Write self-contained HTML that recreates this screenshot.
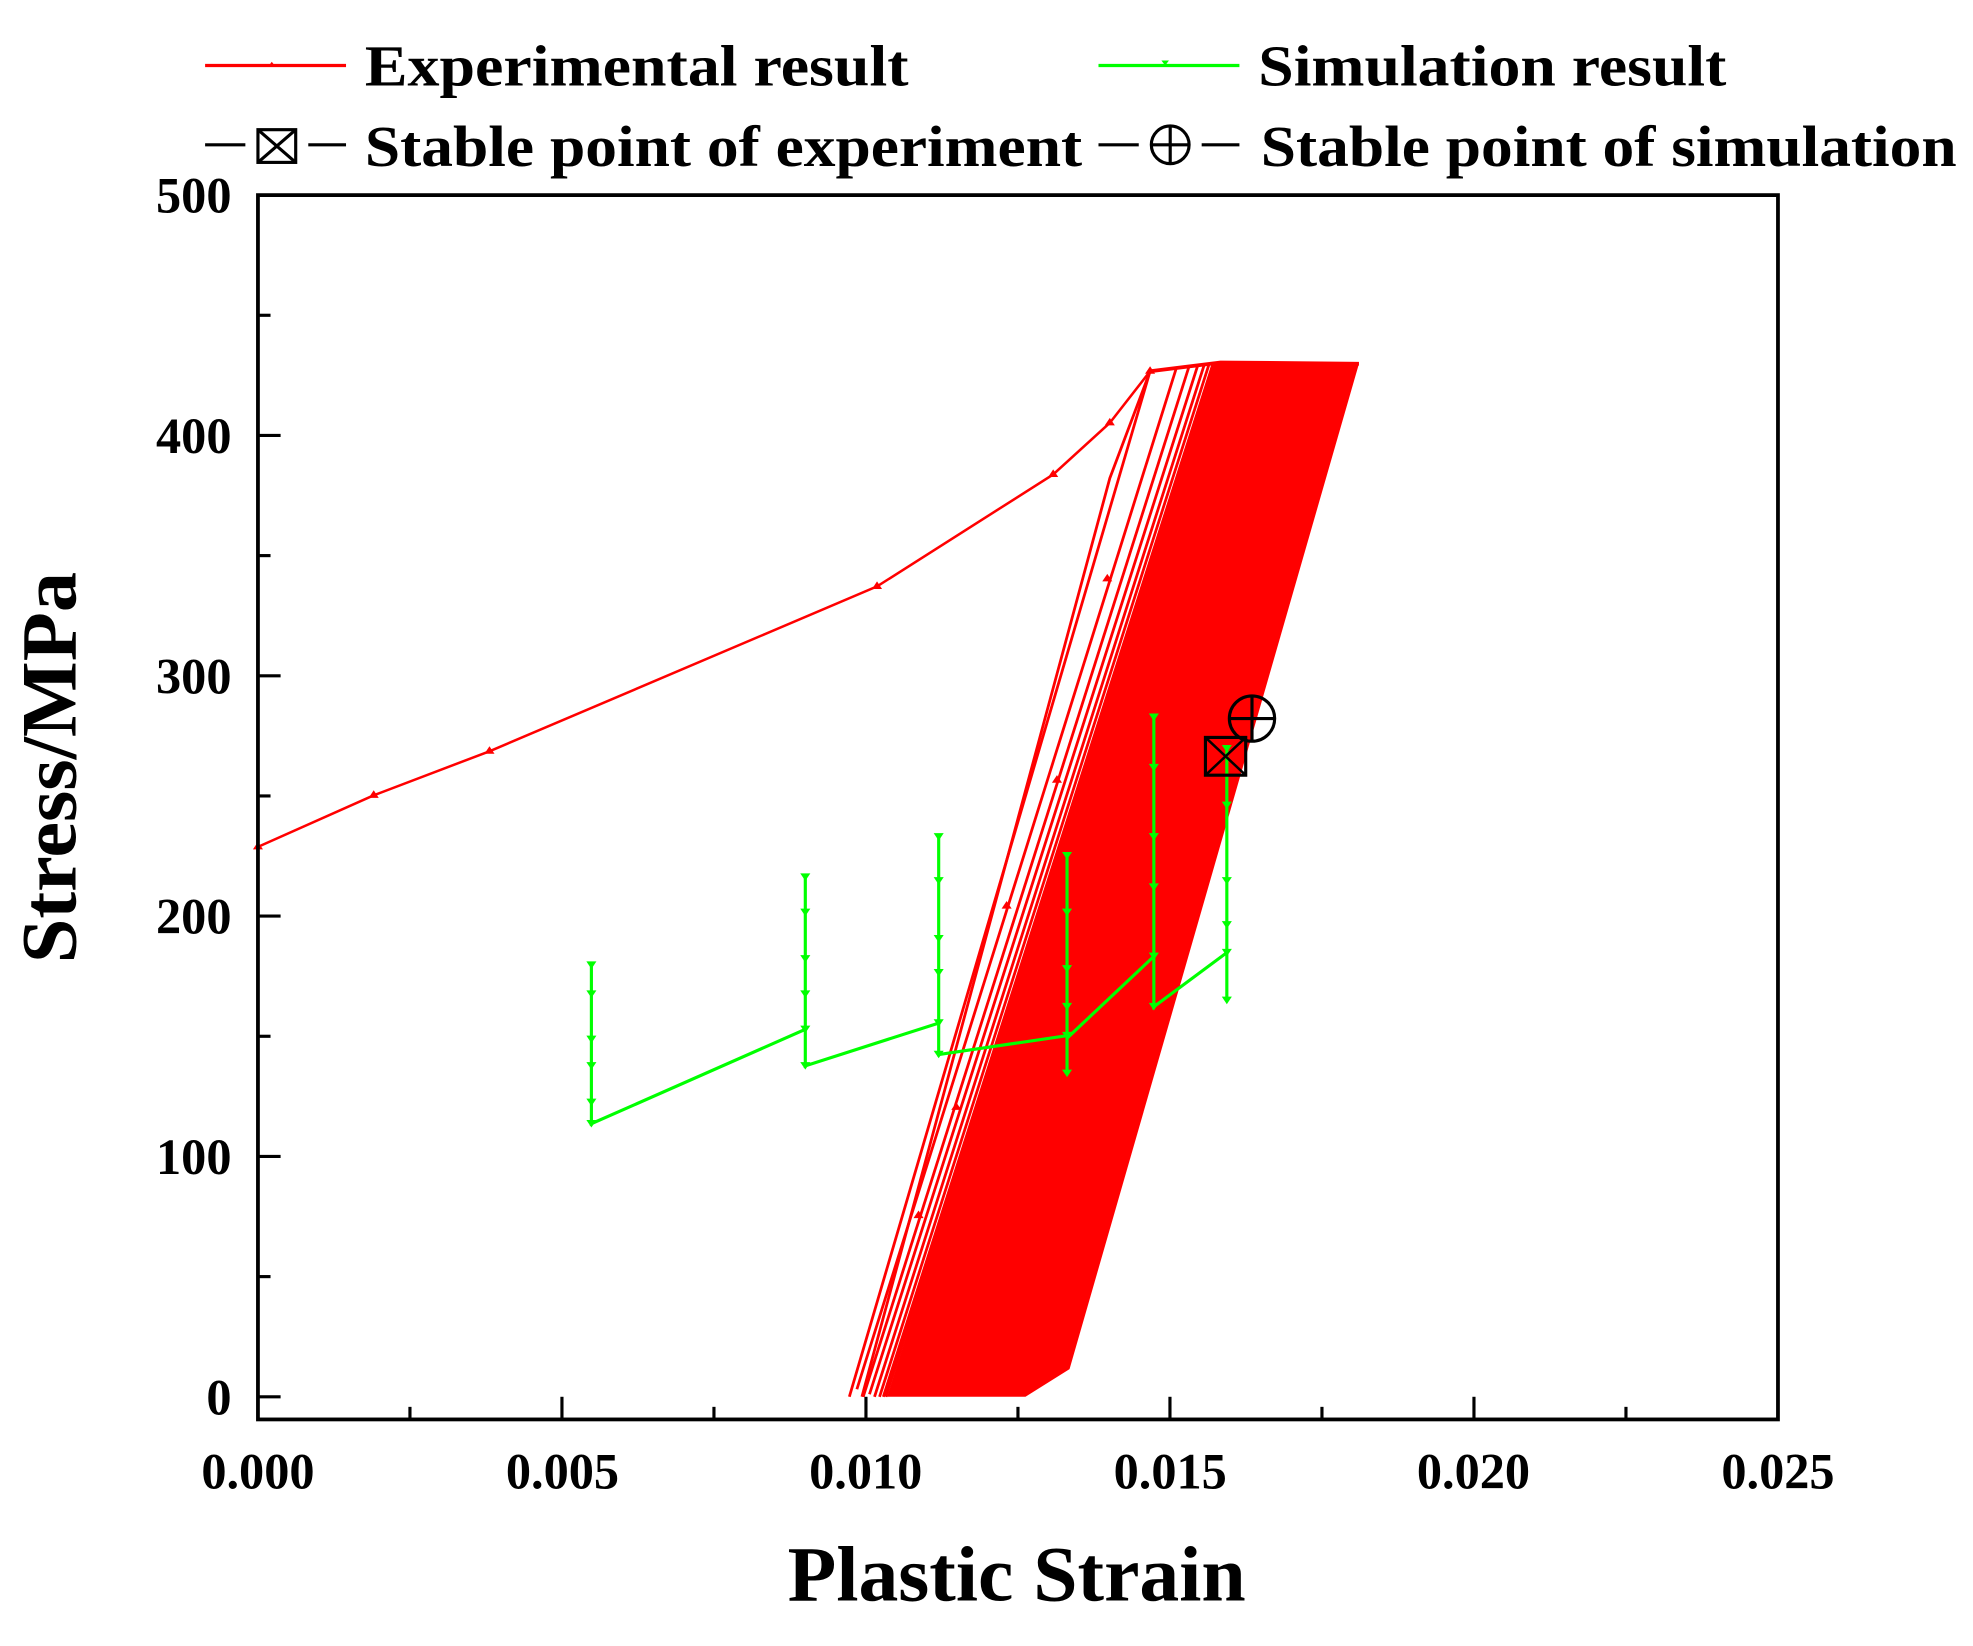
<!DOCTYPE html>
<html><head><meta charset="utf-8"><style>html,body{margin:0;padding:0;background:#fff}svg{display:block}</style></head>
<body>
<svg id="s" width="1973" height="1646" viewBox="0 0 1568 1308" xmlns="http://www.w3.org/2000/svg" font-family="'Liberation Serif', serif" font-weight="bold">
<rect width="1568" height="1308" fill="#fff"/>
<line x1="163" y1="52" x2="275" y2="52" stroke="#f00" stroke-width="2.5"/>
<path d="M216,49 l3,4 h-6z" fill="#f00"/>
<text x="290" y="68" font-size="46" textLength="432" lengthAdjust="spacingAndGlyphs">Experimental result</text>
<line x1="873" y1="52" x2="985" y2="52" stroke="#0f0" stroke-width="2.5"/>
<path d="M926,52 l3,-4 h-6z" fill="#0f0"/>
<text x="1000" y="68" font-size="46" textLength="372" lengthAdjust="spacingAndGlyphs">Simulation result</text>
<g stroke="#000" stroke-width="2.5" fill="none">
<line x1="163" y1="115" x2="195" y2="115"/><line x1="245" y1="115" x2="275" y2="115"/>
<rect x="205" y="103" width="30" height="26"/><path d="M205,103 L235,129 M235,103 L205,129"/>
<line x1="873" y1="115" x2="905" y2="115"/><line x1="955" y1="115" x2="985" y2="115"/>
<circle cx="930" cy="115" r="15"/><path d="M915,115 H945 M930,100 V130"/>
</g>
<text x="290" y="132" font-size="46" textLength="570" lengthAdjust="spacingAndGlyphs">Stable point of experiment</text>
<text x="1002" y="132" font-size="46" textLength="553" lengthAdjust="spacingAndGlyphs">Stable point of simulation</text>
<g id="plot"></g>
<rect x="205" y="155" width="1208" height="973" fill="none" stroke="#000" stroke-width="3"/>
<g id="ticks" stroke="#000" stroke-width="2.5"></g>
<g font-size="40" text-anchor="end">
<text x="184" y="1124">0</text><text x="184" y="933">100</text><text x="184" y="742">200</text><text x="184" y="551">300</text><text x="184" y="360">400</text><text x="184" y="169">500</text>
</g>
<g font-size="40" text-anchor="middle">
<text x="205" y="1183">0.000</text><text x="447" y="1183">0.005</text><text x="688" y="1183">0.010</text><text x="930" y="1183">0.015</text><text x="1171" y="1183">0.020</text><text x="1413" y="1183">0.025</text>
</g>
<text x="808" y="1272" font-size="62" text-anchor="middle" textLength="364" lengthAdjust="spacingAndGlyphs">Plastic Strain</text>
<text transform="translate(60,610) rotate(-90)" font-size="62" text-anchor="middle" textLength="311" lengthAdjust="spacingAndGlyphs">Stress/MPa</text>
</svg>
<script>
var NS="http://www.w3.org/2000/svg";
function el(p,n,a){var e=document.createElementNS(NS,n);for(var k in a)e.setAttribute(k,a[k]);p.appendChild(e);return e;}
var plot=document.getElementById('plot'),ticks=document.getElementById('ticks');
for(var i=0;i<=10;i++){var x=205+i*120.8;if(i==0||i==10)continue;el(ticks,'line',{x1:x,y1:1128,x2:x,y2:(i%2==0?1110:1118)});}
for(var i=0;i<=10;i++){var y=1110-i*95.5;el(ticks,'line',{x1:205,y1:y,x2:(i%2==0?223:215),y2:y});}
el(plot,'polygon',{points:"705,1110 815,1110 850,1088 1080,289 965,288",fill:"#f00"});
var tops=[[914,295],[935,292],[945,291],[952,290],[957,290],[961,289],[964,289],[966,288]];
var bots=[[675,1110],[681,1104],[686,1110],[691,1108],[695,1110],[699,1110],[702,1110],[704,1110]];
for(var i=0;i<tops.length;i++){el(plot,'line',{x1:bots[i][0],y1:bots[i][1],x2:tops[i][0],y2:tops[i][1],stroke:"#f00","stroke-width":2.2});}
el(plot,'path',{d:"M685,1110 L882,380 L914,295",stroke:"#f00","stroke-width":2.2,fill:"none"});
el(plot,'polyline',{points:"914,295 938,292 970,288 1080,289",stroke:"#f00","stroke-width":3,fill:"none"});
var ic=[[205,673],[297,632],[389,597],[697,466],[837,377],[882,336],[914,295]];
el(plot,'polyline',{points:ic.map(function(p){return p.join(',')}).join(' '),stroke:"#f00","stroke-width":2,fill:"none"});
ic.forEach(function(p){el(plot,'path',{d:"M"+p[0]+","+(p[1]-4)+" l4,6 h-8z",fill:"#f00"});});
[[730,966],[760,880],[800,720],[840,620],[880,460]].forEach(function(p){el(plot,'path',{d:"M"+p[0]+","+(p[1]-4)+" l4,6 h-8z",fill:"#f00"});});
var g="M470,767 V893 L640,818 V697 V847 L746,813 V665 V838 L848,823 V680 V853 V825 L917,760 V570 V800 L975,757 V595 V795";
el(plot,'path',{d:g,stroke:"#0f0","stroke-width":2.5,fill:"none"});
var gm=[[470,767],[470,790],[470,826],[470,847],[470,876],[470,893],[640,697],[640,725],[640,762],[640,790],[640,818],[640,847],[746,665],[746,700],[746,746],[746,773],[746,813],[746,838],[848,680],[848,725],[848,770],[848,800],[848,823],[848,853],[917,570],[917,610],[917,665],[917,705],[917,760],[917,800],[975,595],[975,640],[975,700],[975,735],[975,757],[975,795]];
gm.forEach(function(p){el(plot,'path',{d:"M"+(p[0]-4)+","+(p[1]-3)+" h8 l-4,6z",fill:"#0f0"});});
el(plot,'rect',{x:958,y:586,width:32,height:30,fill:"none",stroke:"#000","stroke-width":2.5});
el(plot,'path',{d:"M958,586 L990,616 M990,586 L958,616",stroke:"#000","stroke-width":2});
el(plot,'circle',{cx:995,cy:571,r:18,fill:"none",stroke:"#000","stroke-width":2.5});
el(plot,'path',{d:"M977,571 H1013 M995,553 V589",stroke:"#000","stroke-width":2.5});
</script>
</body></html>
